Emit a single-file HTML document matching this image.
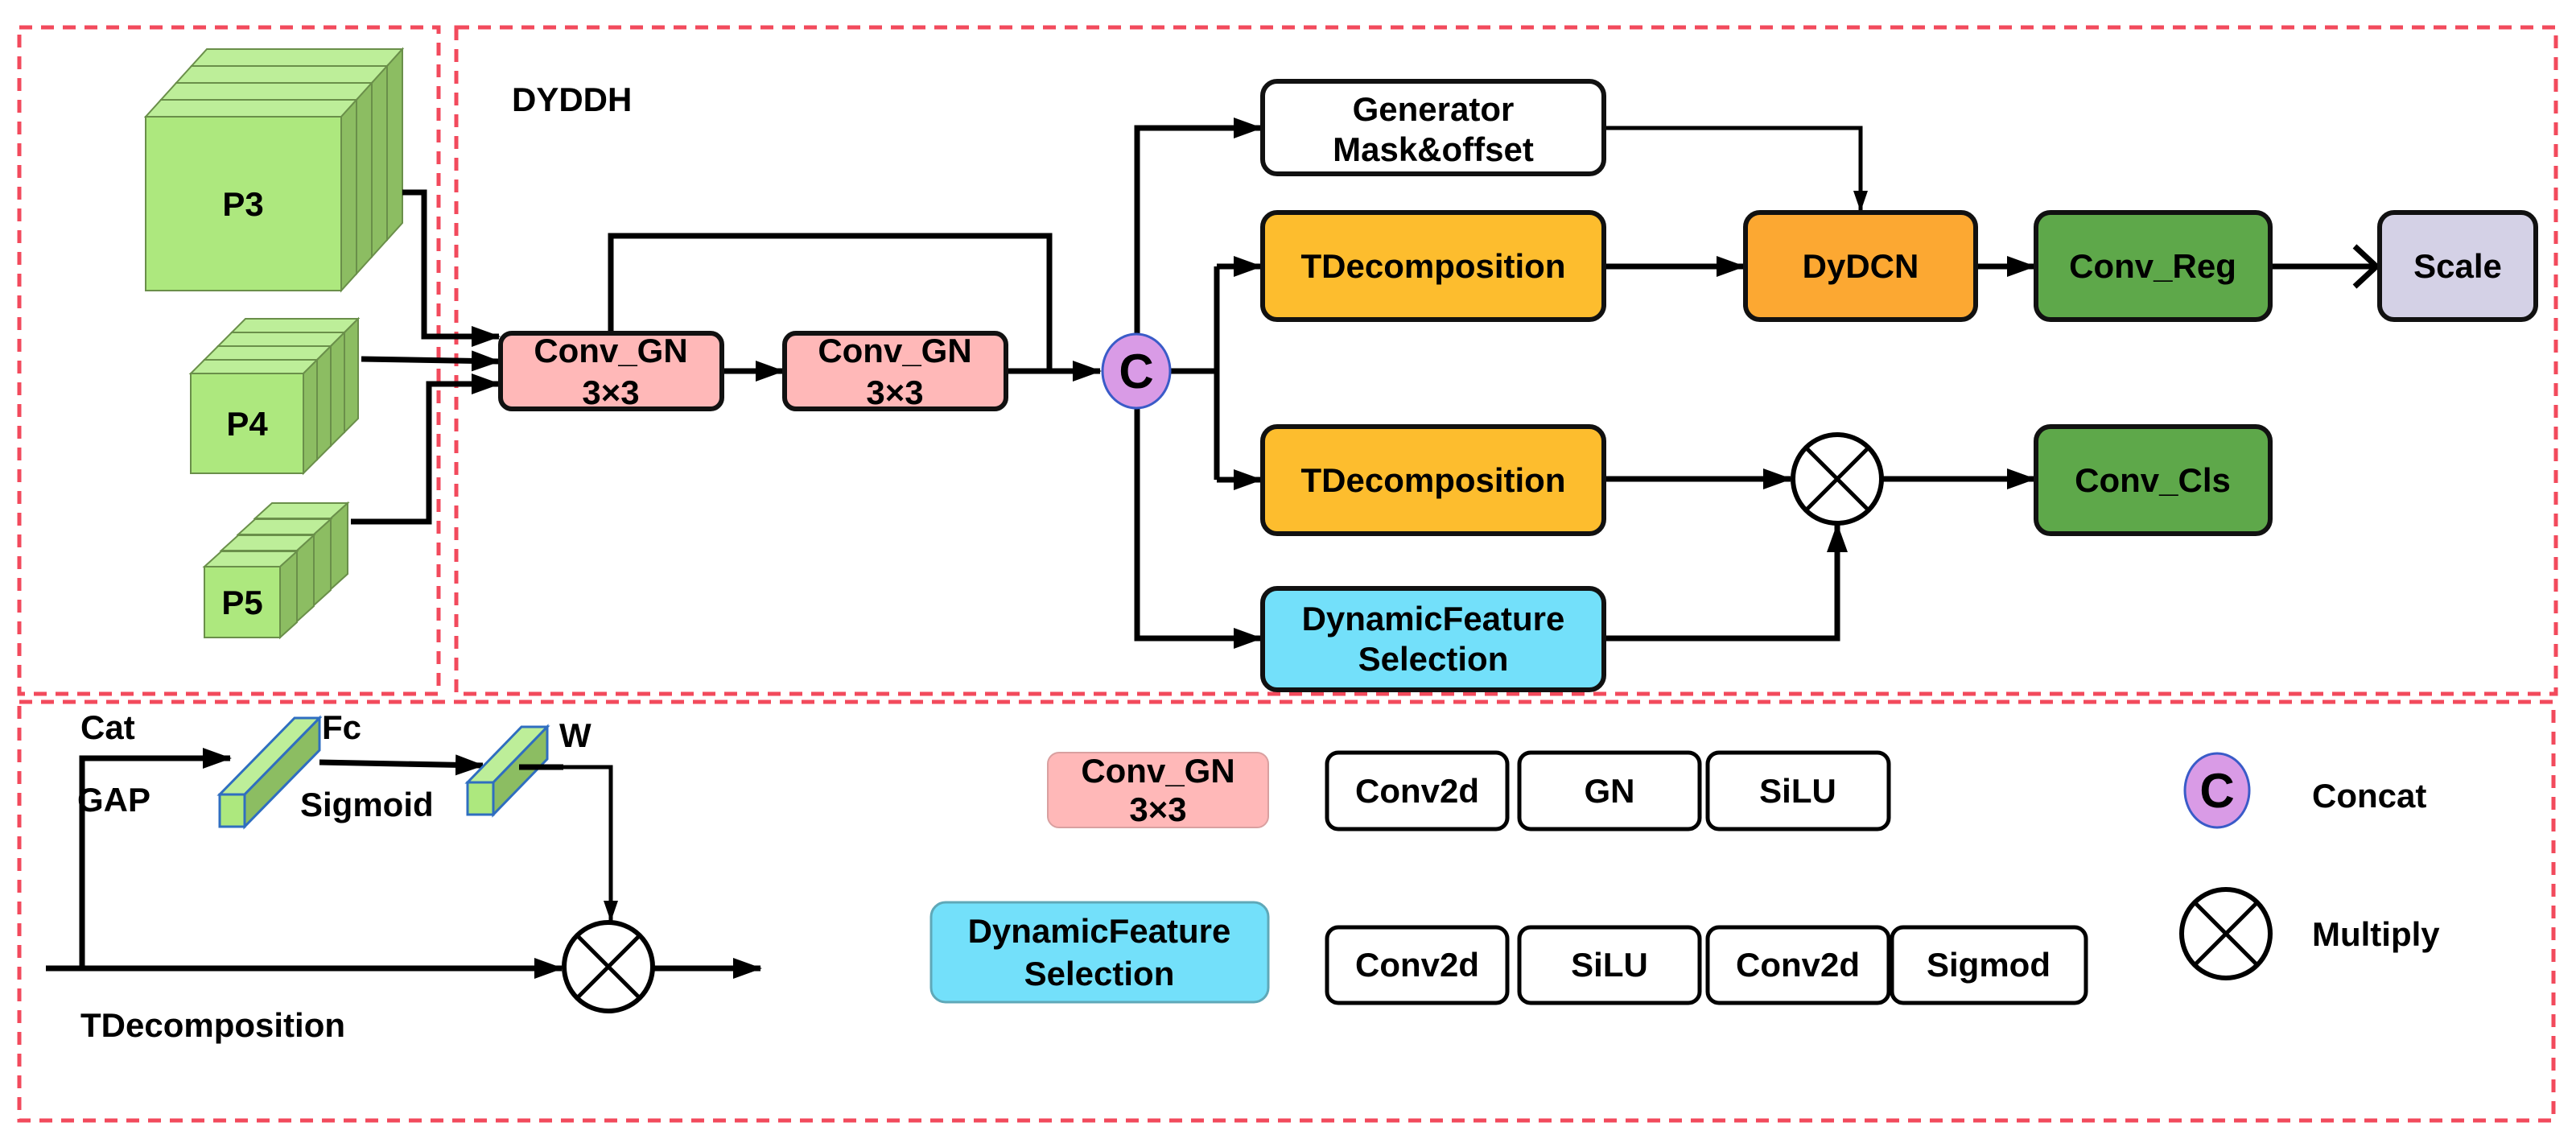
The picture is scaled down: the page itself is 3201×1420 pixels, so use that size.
<!DOCTYPE html>
<html><head><meta charset="utf-8"><style>html,body{margin:0;padding:0;background:#fff}svg{display:block}</style></head>
<body>
<svg width="3201" height="1420" viewBox="0 0 3201 1420" xmlns="http://www.w3.org/2000/svg" font-family="Liberation Sans, Arial, sans-serif" font-weight="bold" font-size="42">
<defs>
<marker id="a" markerWidth="36" markerHeight="26" refX="34" refY="13" orient="auto" markerUnits="userSpaceOnUse" viewBox="0 0 36 26"><path d="M0,0 L36,13 L0,26 z" fill="#000"/></marker>
<marker id="b" markerWidth="26" markerHeight="18" refX="25" refY="9" orient="auto" markerUnits="userSpaceOnUse" viewBox="0 0 26 18"><path d="M0,0 L26,9 L0,18 z" fill="#000"/></marker>
</defs>
<g fill="none" stroke="#f24a5c" stroke-width="5" stroke-dasharray="16,11">
<rect x="24" y="34" width="521" height="828"/>
<rect x="567" y="34" width="2609" height="828"/>
<rect x="24" y="872" width="3149" height="520"/>
</g>
<text x="636" y="138">DYDDH</text>
<g stroke="#6a8f4a" stroke-width="2">
<path d="M238,82 h243 l19,-21 h-243 z" fill="#bdee99"/><path d="M481,82 l19,-21 v216 l-19,21 z" fill="#8cbd62"/><rect x="238" y="82" width="243" height="216" fill="#ade87e"/>
<path d="M219,103 h243 l19,-21 h-243 z" fill="#bdee99"/><path d="M462,103 l19,-21 v216 l-19,21 z" fill="#8cbd62"/><rect x="219" y="103" width="243" height="216" fill="#ade87e"/>
<path d="M200,124 h243 l19,-21 h-243 z" fill="#bdee99"/><path d="M443,124 l19,-21 v216 l-19,21 z" fill="#8cbd62"/><rect x="200" y="124" width="243" height="216" fill="#ade87e"/>
<path d="M181,145 h243 l19,-21 h-243 z" fill="#bdee99"/><path d="M424,145 l19,-21 v216 l-19,21 z" fill="#8cbd62"/><rect x="181" y="145" width="243" height="216" fill="#ade87e"/>
<path d="M288,413 h140 l17,-17 h-140 z" fill="#bdee99"/><path d="M428,413 l17,-17 v124 l-17,17 z" fill="#8cbd62"/><rect x="288" y="413" width="140" height="124" fill="#ade87e"/>
<path d="M271,430 h140 l17,-17 h-140 z" fill="#bdee99"/><path d="M411,430 l17,-17 v124 l-17,17 z" fill="#8cbd62"/><rect x="271" y="430" width="140" height="124" fill="#ade87e"/>
<path d="M254,447 h140 l17,-17 h-140 z" fill="#bdee99"/><path d="M394,447 l17,-17 v124 l-17,17 z" fill="#8cbd62"/><rect x="254" y="447" width="140" height="124" fill="#ade87e"/>
<path d="M237,464 h140 l17,-17 h-140 z" fill="#bdee99"/><path d="M377,464 l17,-17 v124 l-17,17 z" fill="#8cbd62"/><rect x="237" y="464" width="140" height="124" fill="#ade87e"/>
<path d="M317,644 h94 l21,-19 h-94 z" fill="#bdee99"/><path d="M411,644 l21,-19 v88 l-21,19 z" fill="#8cbd62"/><rect x="317" y="644" width="94" height="88" fill="#ade87e"/>
<path d="M296,664 h94 l21,-19 h-94 z" fill="#bdee99"/><path d="M390,664 l21,-19 v88 l-21,19 z" fill="#8cbd62"/><rect x="296" y="664" width="94" height="88" fill="#ade87e"/>
<path d="M275,684 h94 l21,-19 h-94 z" fill="#bdee99"/><path d="M369,684 l21,-19 v88 l-21,19 z" fill="#8cbd62"/><rect x="275" y="684" width="94" height="88" fill="#ade87e"/>
<path d="M254,704 h94 l21,-19 h-94 z" fill="#bdee99"/><path d="M348,704 l21,-19 v88 l-21,19 z" fill="#8cbd62"/><rect x="254" y="704" width="94" height="88" fill="#ade87e"/>
</g>
<text x="302" y="268" text-anchor="middle">P3</text>
<text x="307" y="541" text-anchor="middle">P4</text>
<text x="301" y="763" text-anchor="middle">P5</text>
<g fill="none" stroke="#000" stroke-width="7" marker-end="url(#a)">
<path d="M500,239 H527 V418 H620"/>
<path d="M449,446 L620,449"/>
<path d="M436,648 H533 V477 H620"/>
<path d="M897,461 H973"/>
<path d="M1250,461 H1367"/>
<path d="M1413,415 V159 H1567"/>
<path d="M1413,508 V793 H1567"/>
<path d="M1993,331 H2167"/>
<path d="M2455,331 H2528"/>
<path d="M1993,595 H2225"/>
<path d="M2339,595 H2528"/>
<path d="M1993,793 H2283 V652"/>
<path d="M57,1203 H698"/>
<path d="M812,1203 H945"/>
<path d="M102,1203 V942 H286"/>
<path d="M397,947 L600,951"/>
</g>
<g fill="none" stroke="#000" stroke-width="7">
<path d="M1455,461 H1512"/>
<path d="M1512,331 V596"/>
<path d="M759,414 V293 H1304 V461"/>
<path d="M2821,331 H2950"/>
<path d="M2926,306 L2953,331 L2926,356"/>
</g>
<g fill="none" stroke="#000">
<path d="M1512,331 H1567" stroke-width="7" marker-end="url(#a)"/>
<path d="M1512,596 H1567" stroke-width="7" marker-end="url(#a)"/>
<path d="M1993,159 H2312 V262" stroke-width="5" marker-end="url(#b)"/>
<path d="M645,953 H759 V1144" stroke-width="5" marker-end="url(#b)"/>
</g>
<g stroke="#111" stroke-width="6">
<rect x="622" y="414" width="275" height="94" rx="14" fill="#ffb8b8"/>
<rect x="975" y="414" width="275" height="94" rx="14" fill="#ffb8b8"/>
<rect x="1569" y="101" width="424" height="115" rx="18" fill="#fff"/>
<rect x="1569" y="264" width="424" height="133" rx="18" fill="#fdbd2e"/>
<rect x="2169" y="264" width="286" height="133" rx="18" fill="#fca832"/>
<rect x="2530" y="264" width="291" height="133" rx="18" fill="#5ea84a"/>
<rect x="2957" y="264" width="194" height="133" rx="18" fill="#d4d1e6"/>
<rect x="1569" y="530" width="424" height="133" rx="18" fill="#fdbd2e"/>
<rect x="2530" y="530" width="291" height="133" rx="18" fill="#5ea84a"/>
<rect x="1569" y="731" width="424" height="126" rx="18" fill="#73e0fa"/>
</g>
<ellipse cx="1412" cy="461" rx="42" ry="46" fill="#d99be6" stroke="#3a5bc8" stroke-width="3"/>
<text x="1412" y="482" text-anchor="middle" font-size="60">C</text>
<g fill="#fff" stroke="#000" stroke-width="6">
<circle cx="2283" cy="595" r="55"/>
<circle cx="756" cy="1201" r="55"/>
<circle cx="2766" cy="1160" r="55"/>
</g>
<g stroke="#000" stroke-width="5">
<path d="M2244,556 L2322,634 M2322,556 L2244,634"/>
<path d="M717,1162 L795,1240 M795,1162 L717,1240"/>
<path d="M2727,1121 L2805,1199 M2805,1121 L2727,1199"/>
</g>
<g text-anchor="middle">
<text x="759" y="450">Conv_GN</text><text x="759" y="502">3×3</text>
<text x="1112" y="450">Conv_GN</text><text x="1112" y="502">3×3</text>
<text x="1781" y="150">Generator</text><text x="1781" y="200">Mask&amp;offset</text>
<text x="1781" y="345">TDecomposition</text>
<text x="2312" y="345">DyDCN</text>
<text x="2675" y="345">Conv_Reg</text>
<text x="3054" y="345">Scale</text>
<text x="1781" y="611">TDecomposition</text>
<text x="2675" y="611">Conv_Cls</text>
<text x="1781" y="783">DynamicFeature</text><text x="1781" y="833">Selection</text>
</g>
<g stroke="#2f6ec0" stroke-width="3">
<path d="M273,987 h31 l93,-95 h-31 z" fill="#bdee99"/>
<path d="M304,987 l93,-95 v40 l-93,95 z" fill="#8cbd62"/>
<rect x="273" y="987" width="31" height="40" fill="#ade87e"/>
<path d="M581,972 h32 l67,-69 h-32 z" fill="#bdee99"/>
<path d="M613,972 l67,-69 v40 l-67,69 z" fill="#8cbd62"/>
<rect x="581" y="972" width="32" height="40" fill="#ade87e"/>
</g>
<path d="M645,953 H700" stroke="#000" stroke-width="7"/>
<text x="100" y="918">Cat</text>
<text x="96" y="1008">GAP</text>
<text x="400" y="918">Fc</text>
<text x="373" y="1014">Sigmoid</text>
<text x="695" y="928">W</text>
<text x="100" y="1288">TDecomposition</text>
<rect x="1302" y="935" width="274" height="93" rx="14" fill="#ffb8b8" stroke="#d9a0a0" stroke-width="2"/>
<text x="1439" y="972" text-anchor="middle">Conv_GN</text><text x="1439" y="1020" text-anchor="middle">3×3</text>
<rect x="1157" y="1121" width="419" height="124" rx="18" fill="#73e0fa" stroke="#5fa8b8" stroke-width="3"/>
<text x="1366" y="1171" text-anchor="middle">DynamicFeature</text><text x="1366" y="1224" text-anchor="middle">Selection</text>
<g fill="#fff" stroke="#000" stroke-width="5">
<rect x="1649" y="935" width="224" height="95" rx="14"/>
<rect x="1888" y="935" width="224" height="95" rx="14"/>
<rect x="2122" y="935" width="225" height="95" rx="14"/>
<rect x="1649" y="1152" width="224" height="94" rx="14"/>
<rect x="1888" y="1152" width="224" height="94" rx="14"/>
<rect x="2122" y="1152" width="225" height="94" rx="14"/>
<rect x="2351" y="1152" width="241" height="94" rx="14"/>
</g>
<g text-anchor="middle">
<text x="1761" y="997">Conv2d</text>
<text x="2000" y="997">GN</text>
<text x="2234" y="997">SiLU</text>
<text x="1761" y="1213">Conv2d</text>
<text x="2000" y="1213">SiLU</text>
<text x="2234" y="1213">Conv2d</text>
<text x="2471" y="1213">Sigmod</text>
</g>
<ellipse cx="2755" cy="982" rx="40" ry="46" fill="#d99be6" stroke="#3a5bc8" stroke-width="3"/>
<text x="2755" y="1003" text-anchor="middle" font-size="60">C</text>
<text x="2873" y="1003">Concat</text>
<text x="2873" y="1175">Multiply</text>
</svg>
</body></html>
